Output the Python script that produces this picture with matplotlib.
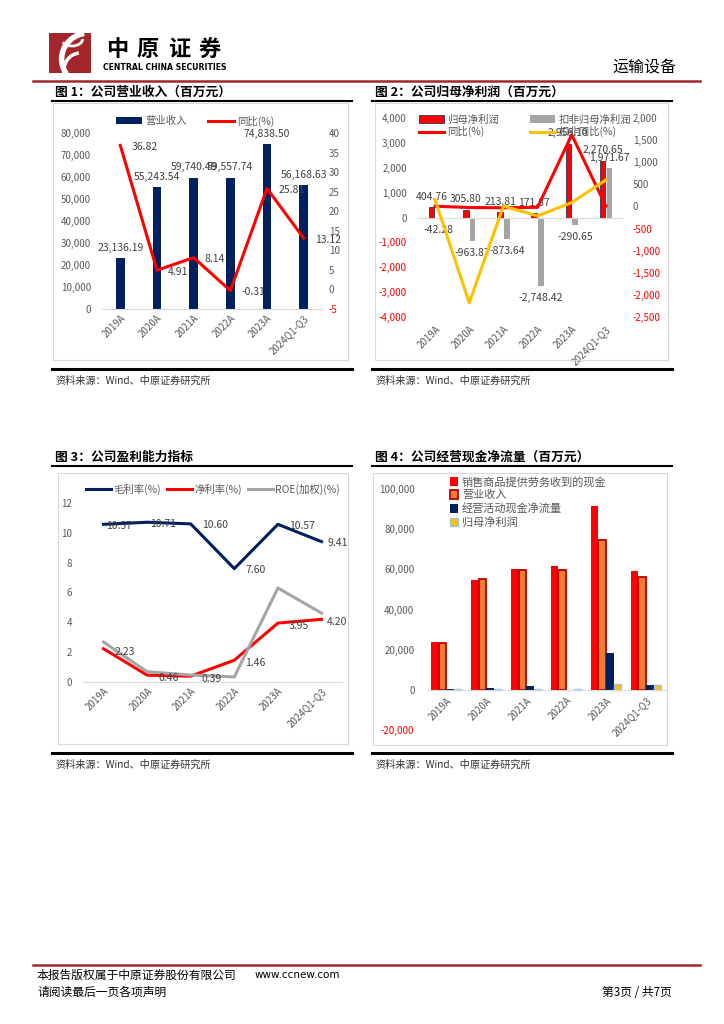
import matplotlib.pyplot as plt
from matplotlib.patches import Rectangle, Arc
from matplotlib.lines import Line2D
from matplotlib.ticker import FuncFormatter
import numpy as np

plt.rcParams['font.family'] = ['Noto Sans CJK SC', 'DejaVu Sans']
plt.rcParams['axes.unicode_minus'] = False

W, H = 724, 1024
years = ['2019A', '2020A', '2021A', '2022A', '2023A', '2024Q1-Q3']

# 图1 营业收入
revenue = [23136.19, 55243.54, 59740.49, 59557.74, 74838.50, 56168.63]
revenue_yoy = [36.82, 4.91, 8.14, -0.31, 25.81, 13.12]

# 图2 归母净利润
net_profit = [404.76, 305.80, 213.81, 171.87, 2956.10, 2270.65]
net_profit_kf = [-42.28, -963.87, -873.64, -2748.42, -290.65, 1971.67]
net_profit_yoy = [5, -24.45, -30.08, -19.62, 1620, 5]
kf_yoy = [150, -2180, 9.4, -214.6, 89.4, 600]

# 图3 盈利能力
gross_margin = [10.57, 10.71, 10.60, 7.60, 10.57, 9.41]
net_margin = [2.23, 0.46, 0.39, 1.46, 3.95, 4.20]
roe = [2.68, 0.69, 0.47, 0.34, 6.30, 4.62]

# 图4 现金流
sales_cash = [24000, 54800, 60200, 61700, 91500, 59000]
op_cashflow = [500, 900, 1800, -300, 18200, 2200]

GRAY_TXT = '#595959'
LBL = '#404040'
RED = '#FF0000'
NAVY = '#002060'

fig = plt.figure(figsize=(W / 100, H / 100), dpi=100)


def fx(x):
    return x / W


def fy(y):
    return 1 - y / H


def hline(x0, x1, y, color, lw):
    fig.add_artist(Line2D([fx(x0), fx(x1)], [fy(y), fy(y)], color=color, lw=lw,
                          transform=fig.transFigure))


def text(x, y, s, **kw):
    fig.text(fx(x), fy(y), s, **kw)


def new_ax(x0, y0, x1, y1):
    return fig.add_axes([fx(x0), fy(y1), (x1 - x0) / W, (y1 - y0) / H])


def panel(x0, x1, ytitle, yline, box, ybottom, title):
    text(x0 + 3, ytitle, title, fontsize=9.2, fontweight='bold', va='center')
    hline(x0, x1, yline, 'black', 1.5)
    bx0, by0, bx1, by1 = box
    fig.add_artist(Rectangle((fx(bx0), fy(by1)), (bx1 - bx0) / W, (by1 - by0) / H,
                             fill=False, edgecolor='#D9D9D9', lw=0.8,
                             transform=fig.transFigure))
    hline(x0, x1, ybottom, 'black', 2.2)
    text(x0 + 3, ybottom + 12, '资料来源：Wind、中原证券研究所', fontsize=7.3,
         va='center', color='#333333')


def style(ax):
    for s in ax.spines.values():
        s.set_visible(False)
    ax.tick_params(length=0, labelsize=7, colors=GRAY_TXT)


def xcats(ax, pad=3):
    ax.set_xticks(np.arange(len(years)))
    ax.set_xticklabels(years, rotation=45, ha='right', rotation_mode='anchor')
    ax.tick_params(axis='x', pad=pad)


comma = FuncFormatter(lambda v, p: f'{v:,.0f}')

# ---------------- header ----------------
logo = new_ax(49, 33, 91, 73)
logo.set_facecolor('#A3262A')
logo.set_xlim(0, 1)
logo.set_ylim(0, 1)
logo.set_xticks([])
logo.set_yticks([])
for s in logo.spines.values():
    s.set_visible(False)
logo.add_patch(Arc((0.95, 0.35), 1.3, 1.3, theta1=100, theta2=215, color='white', lw=4))
logo.add_patch(Arc((0.75, 0.05), 0.8, 0.9, theta1=95, theta2=190, color='white', lw=2.5))
logo.add_patch(Arc((0.55, 0.85), 0.5, 0.35, theta1=200, theta2=360, color='white', lw=2))
for ch, cx in zip('中原证券', [117, 148, 179, 210]):
    text(cx, 50, ch, fontsize=16, fontweight='bold', ha='center', va='center')
text(103, 67, 'CENTRAL CHINA SECURITIES', fontsize=5.6, fontweight='bold',
     family='DejaVu Sans', va='center')
text(676, 68, '运输设备', fontsize=11.5, ha='right', va='center')
hline(33, 700, 81, '#A3262A', 1.8)

# ---------------- footer ----------------
hline(33, 700, 965, '#A3262A', 1.8)
text(37, 975, '本报告版权属于中原证券股份有限公司', fontsize=8.5, va='center')
text(255, 975, 'www.ccnew.com', fontsize=7.5, va='center', family='DejaVu Sans')
text(37, 992, '请阅读最后一页各项声明', fontsize=8.5, va='center')
text(672, 992, '第3页 / 共7页', fontsize=8.5, va='center', ha='right')

# ---------------- 图1 ----------------
panel(52, 352, 92, 101, (53, 103, 348, 360), 369, '图 1：公司营业收入（百万元）')
x = np.arange(len(years))
ax = new_ax(102, 133, 322, 309)
style(ax)
bars = ax.bar(x, revenue, width=0.24, color=NAVY, label='营业收入')
ax.set_xlim(-0.5, 5.5)
ax.set_ylim(0, 80000)
ax.set_yticks(range(0, 80001, 10000))
ax.yaxis.set_major_formatter(comma)
ax.tick_params(axis='y', pad=8)
ax.spines['bottom'].set_visible(True)
ax.spines['bottom'].set_color('#D9D9D9')
xcats(ax)
for i, v in enumerate(revenue):
    ax.annotate(f'{v:,.2f}', (i, v), xytext=(0, 4), textcoords='offset points',
                ha='center', va='bottom', fontsize=7.5, color=LBL)
ax2 = ax.twinx()
style(ax2)
ln, = ax2.plot(x, revenue_yoy, color=RED, lw=2.2, label='同比(%)')
ax2.set_ylim(-5, 40)
rt1 = list(range(-5, 41, 5))
ax2.set_yticks(rt1, labels=[str(v) for v in rt1])
for lab, v in zip(ax2.get_yticklabels(), rt1):
    lab.set_color(RED if v < 0 else GRAY_TXT)
ax2.tick_params(axis='y', pad=5)
for i, v in enumerate(revenue_yoy):
    ax2.annotate(f'{v:.2f}', (i, v), xytext=(8, -1), textcoords='offset points',
                 ha='left', va='center', fontsize=7.5, color=LBL)
fig.legend([bars, ln], ['营业收入', '同比(%)'], loc='center',
           bbox_to_anchor=(fx(195), fy(121)), ncol=2, frameon=False, fontsize=7.5,
           handlelength=2.5, columnspacing=2, handletextpad=0.3,
           labelcolor=GRAY_TXT)

# ---------------- 图2 ----------------
panel(372, 672, 92, 101, (375, 103, 668, 360), 369, '图 2：公司归母净利润（百万元）')
ax = new_ax(418, 118, 623, 317)
style(ax)
b1 = ax.bar(x - 0.1, net_profit, width=0.16, color=RED, edgecolor='#203864', lw=0.6)
b2 = ax.bar(x + 0.1, net_profit_kf, width=0.16, color='#A5A5A5')
ax.axhline(0, color='#D9D9D9', lw=0.8)
ax.set_xlim(-0.5, 5.5)
ax.set_ylim(-4000, 4000)
lt = list(range(-4000, 4001, 1000))
ax.set_yticks(lt, labels=[f'{v:,}' for v in lt])
for lab, v in zip(ax.get_yticklabels(), lt):
    lab.set_color(RED if v < 0 else GRAY_TXT)
ax.tick_params(axis='y', pad=8)
xcats(ax, pad=5)
for i, v in enumerate(net_profit):
    ax.annotate(f'{v:,.2f}', (i - 0.1, v), xytext=(0, 4), textcoords='offset points',
                ha='center', va='bottom', fontsize=7.5, color=LBL)
for i, v in enumerate(net_profit_kf):
    off, va = ((0, 4), 'bottom') if v > 0 else ((0, -5), 'top')
    ax.annotate(f'{v:,.2f}', (i + 0.1, v), xytext=off, textcoords='offset points',
                ha='center', va=va, fontsize=7.5, color=LBL)
ax2 = ax.twinx()
style(ax2)
l1, = ax2.plot(x, net_profit_yoy, color=RED, lw=2.2)
l2, = ax2.plot(x, kf_yoy, color='#FFC000', lw=2.2)
ax2.set_ylim(-2500, 2000)
rt = list(range(-2500, 2001, 500))
ax2.set_yticks(rt, labels=[f'{v:,}' for v in rt])
for lab, v in zip(ax2.get_yticklabels(), rt):
    lab.set_color(RED if v < 0 else GRAY_TXT)
ax2.tick_params(axis='y', pad=7)
fig.legend([b1, l1, b2, l2], ['归母净利润', '同比(%)', '扣非归母净利润', '扣非同比(%)'],
           loc='center', bbox_to_anchor=(fx(525), fy(126)), ncol=2, frameon=False,
           fontsize=7.5, handlelength=2.4, columnspacing=3, handletextpad=0.3,
           labelspacing=0.15, labelcolor=GRAY_TXT)

# ---------------- 图3 ----------------
panel(52, 352, 457, 466, (58, 473, 348, 744), 753, '图 3：公司盈利能力指标')
ax = new_ax(83, 503, 342, 682)
style(ax)
ax.spines['bottom'].set_visible(True)
ax.spines['bottom'].set_color('#D9D9D9')
lg, = ax.plot(x, gross_margin, color=NAVY, lw=2.2)
lnm, = ax.plot(x, net_margin, color=RED, lw=2.2)
lr, = ax.plot(x, roe, color='#A5A5A5', lw=2.2)
ax.set_xlim(-0.47, 5.47)
ax.set_ylim(0, 12)
ax.set_yticks(range(0, 13, 2))
ax.tick_params(axis='y', pad=8)
xcats(ax)
gm_dx = [2, 2, 8, 8, 8, 4]
nm_dx = [8, 8, 8, 8, 8, 4]
for i, v in enumerate(gross_margin):
    ax.annotate(f'{v:.2f}', (i, v), xytext=(gm_dx[i], -1), textcoords='offset points',
                ha='left', va='center', fontsize=7.5, color=LBL)
for i, v in enumerate(net_margin):
    ax.annotate(f'{v:.2f}', (i, v), xytext=(nm_dx[i], -2), textcoords='offset points',
                ha='left', va='center', fontsize=7.5, color=LBL)
fig.legend([lg, lnm, lr], ['毛利率(%)', '净利率(%)', 'ROE(加权)(%)'], loc='center',
           bbox_to_anchor=(fx(213), fy(489)), ncol=3, frameon=False, fontsize=7.5,
           handlelength=2.4, columnspacing=0.6, handletextpad=0.2, labelcolor=GRAY_TXT)

# ---------------- 图4 ----------------
panel(372, 672, 457, 466, (373, 473, 667, 745), 753, '图 4：公司经营现金净流量（百万元）')
ax = new_ax(427, 489, 666, 730)
style(ax)
w = 0.19
c1 = ax.bar(x - 1.5 * w, sales_cash, width=w, color=RED)
c2 = ax.bar(x - 0.5 * w, revenue, width=w, color='#ED7D31', edgecolor='#C00000', lw=1.3)
c3 = ax.bar(x + 0.5 * w, op_cashflow, width=w, color=NAVY)
c4 = ax.bar(x + 1.5 * w, net_profit, width=w, color='#FFC000', edgecolor='#9DC3E6', lw=1.0)
ax.set_xlim(-0.48, 5.5)
ax.set_ylim(-20000, 100000)
yt = list(range(-20000, 100001, 20000))
ax.set_yticks(yt, labels=[f'{v:,}' for v in yt])
for lab, v in zip(ax.get_yticklabels(), yt):
    lab.set_color(RED if v < 0 else GRAY_TXT)
ax.tick_params(axis='y', pad=9)
ax.spines['bottom'].set_visible(True)
ax.spines['bottom'].set_position(('data', 0))
ax.spines['bottom'].set_color('#D9D9D9')
xcats(ax, pad=4)
fig.legend([c1, c2, c3, c4], ['销售商品提供劳务收到的现金', '营业收入', '经营活动现金净流量', '归母净利润'],
           loc='upper left', bbox_to_anchor=(fx(444), fy(471)), ncol=1, frameon=False,
           fontsize=8, handlelength=0.8, handleheight=0.8, handletextpad=0.3,
           labelspacing=0.25, borderpad=0, labelcolor=GRAY_TXT)

fig.savefig('out.png', dpi=100)
